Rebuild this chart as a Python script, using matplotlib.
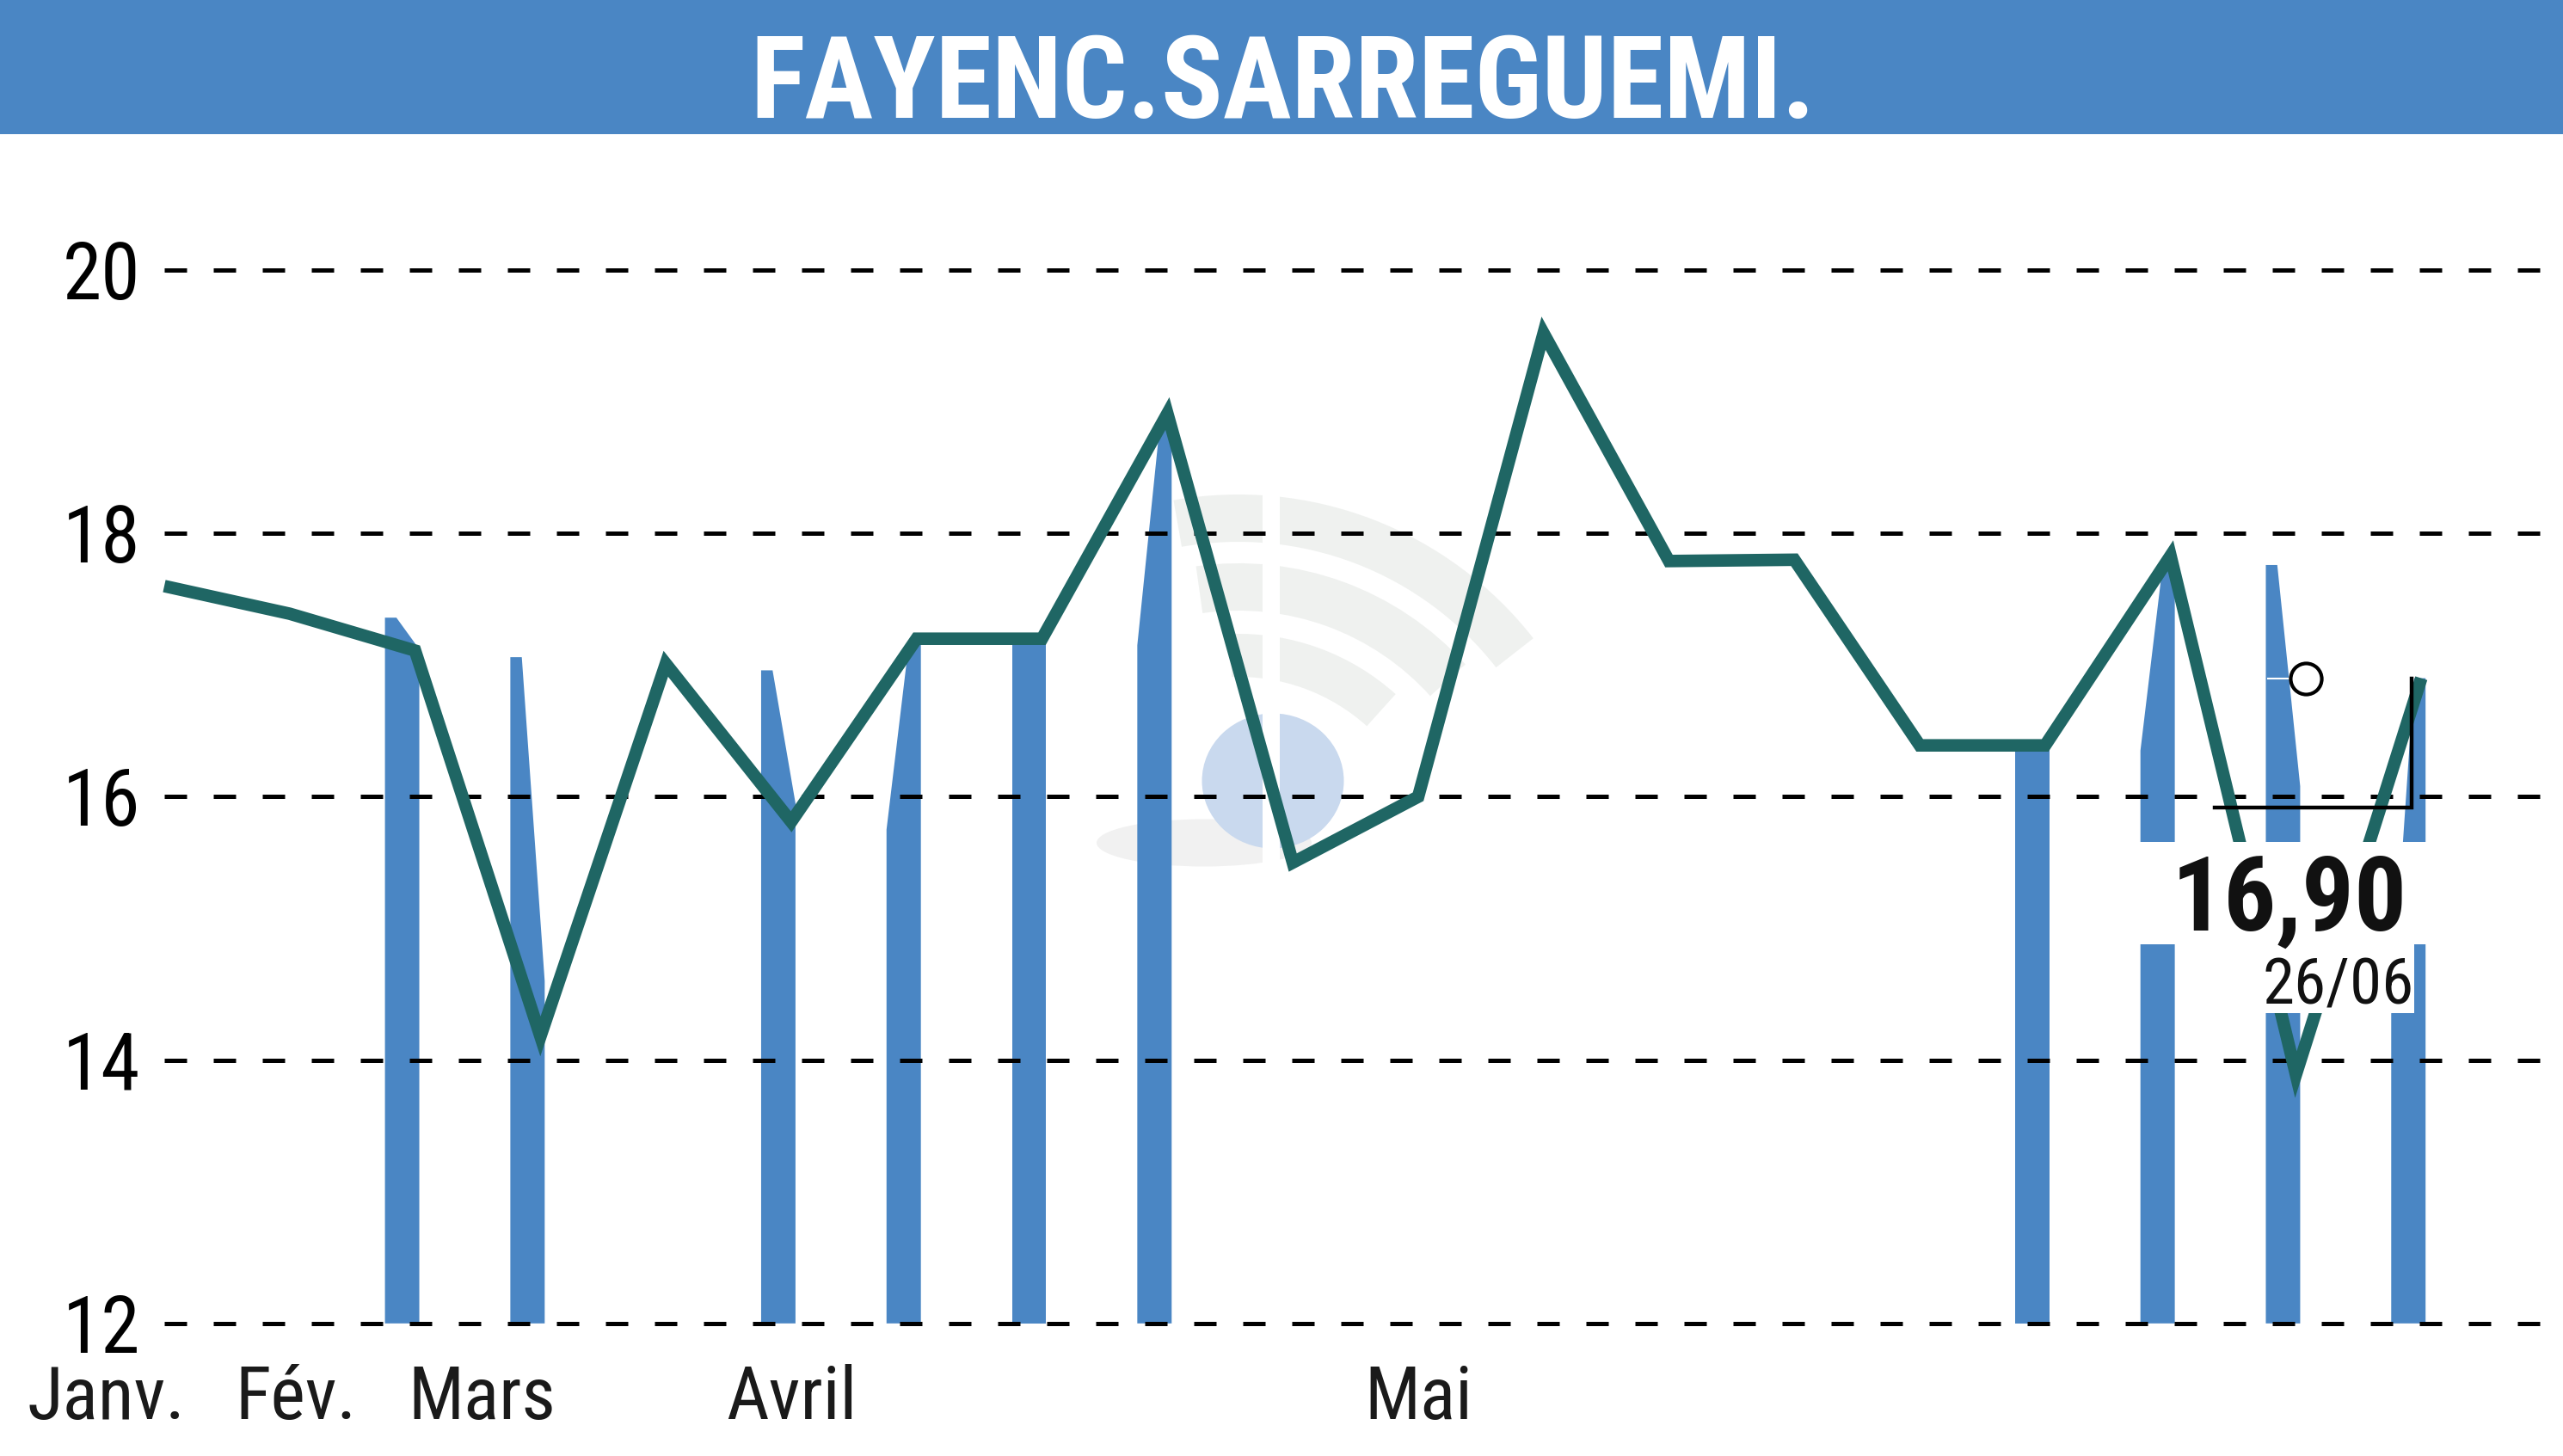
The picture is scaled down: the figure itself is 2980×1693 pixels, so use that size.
import matplotlib
matplotlib.use("Agg")
import matplotlib.pyplot as plt
from matplotlib import font_manager
from matplotlib.patches import Rectangle, Wedge, Ellipse

# -----------------------------
# Data
# -----------------------------
title = "FAYENC.SARREGUEMI."
prices = [17.60, 17.39, 17.11, 14.18, 17.01, 15.81, 17.20, 17.20, 18.91, 15.50,
          16.00, 19.52, 17.79, 17.80, 16.39, 16.39, 17.83, 13.89, 16.90]
bar_index = [2, 3, 5, 6, 7, 8, 15, 16, 17, 18]
bar_top_left = [17.36, 17.06, 16.96, 15.75, 17.20, 17.15, 16.40, 16.35, 17.76, 14.35]
bar_top_right = [17.12, 14.60, 15.95, 17.20, 17.20, 18.85, 16.40, 17.80, 16.08, 16.90]
months = ["Janv.", "Fév.", "Mars", "Avril", "Mai"]
month_ticks = [-0.46, 1.05, 2.53, 5.0, 10.0]
y_ticks = [12, 14, 16, 18, 20]
last_value = "16,90"
last_date = "26/06"

# -----------------------------
# Fonts / colours
# -----------------------------
names = {f.name for f in font_manager.fontManager.ttflist}
FONT = "DejaVu Sans"
for cand in ["Liberation Sans Narrow", "Roboto Condensed", "Roboto", "Liberation Sans"]:
    if cand in names:
        FONT = cand
        break
txt = dict(family=FONT)

BLUE = "#4a86c4"
TEAL = "#1f6664"

fig = plt.figure(figsize=(29.8, 16.93), dpi=100)

# watermark layer in pixel units (under the chart)
wm = fig.add_axes([0, 0, 1, 1], zorder=0)
wm.set_xlim(0, 2980)
wm.set_ylim(1693, 0)
wm.axis("off")
for r, w, a1, a2 in [(435, 55, 38, 100), (355, 55, 42, 98), (273, 50, 48, 92)]:
    wm.add_patch(Wedge((1440, 1010), r, 360 - a2, 360 - a1, width=w,
                       facecolor="#eff1ef", edgecolor="none"))
wm.add_patch(Ellipse((1400, 980), 250, 55, facecolor="#f1f1f1", edgecolor="none"))
wm.add_patch(Ellipse((1480, 908), 165, 157, facecolor="#c9d9ee", edgecolor="none"))
wm.add_patch(Rectangle((1468, 540), 20, 500, facecolor="white", edgecolor="none"))

# main chart, axes spanning the whole figure
ax = fig.add_axes([0, 0, 1, 1], zorder=1)
ax.patch.set_alpha(0)
ax.set_xlim(-1.31, 19.13)
ax.set_ylim(10.993, 22.051)
ax.axis("off")

x = list(range(len(prices)))

# bars (stepped tops approximated by a slanted top, flat on the high side)
bw = 0.274
for i, tl, tr in zip(bar_index, bar_top_left, bar_top_right):
    xl = i - 0.24
    xr = xl + bw
    if tl >= tr:
        px = [xl, xl, xl + bw / 3, xr, xr]
        py = [12, tl, tl, tr, 12]
    else:
        px = [xl, xl, xr - bw / 3, xr, xr]
        py = [12, tl, tr, tr, 12]
    ax.fill(px, py, color=BLUE, lw=0, zorder=2)

# dashed grid
ax.hlines(y_ticks, 0, 19.13, colors="black", lw=3.6,
          linestyles=(0, (5.2, 6.2)), zorder=3)

# price line
ax.plot(x, prices, color=TEAL, lw=10.5, solid_joinstyle="miter",
        solid_capstyle="butt", zorder=4)

# y labels
for v in y_ticks:
    ax.text(-0.19, v - 0.222, str(v), ha="right", va="baseline",
            fontsize=66, color="black", **txt)

# month labels
for pos, m in zip(month_ticks, months):
    ax.text(pos, 11.274, m, ha="center", va="baseline",
            fontsize=62, color="#1a1a1a", **txt)

# last value annotation
ax.add_patch(Rectangle((15.63, 14.879), 2.47, 0.778, facecolor="white",
                       edgecolor="none", zorder=5))
ax.add_patch(Rectangle((16.69, 14.357), 1.25, 0.522, facecolor="white",
                       edgecolor="none", zorder=5))
ax.plot([16.35, 17.92, 17.92], [15.92, 15.92, prices[-1]], color="black",
        lw=3.2, solid_joinstyle="miter", zorder=6)
ax.plot([16.78, 16.98], [prices[-1], prices[-1]], color="white", lw=1.5, zorder=5)
ax.plot([17.08], [prices[-1]], marker="o", ms=26, mfc="none", mec="black",
        mew=3, zorder=6)
ax.text(17.89, 14.984, last_value, ha="right", va="baseline", fontsize=87,
        fontweight="bold", color="#111111", zorder=7, **txt)
ax.text(17.94, 14.428, last_date, ha="right", va="baseline", fontsize=54,
        color="#111111", zorder=7, **txt)

# title band
ax.add_patch(Rectangle((0, 1 - 156 / 1693), 1, 156 / 1693, transform=ax.transAxes,
                       facecolor=BLUE, edgecolor="none", zorder=8))
ax.text(0.5007, 1 - 137 / 1693, title, transform=ax.transAxes, ha="center",
        va="baseline", fontsize=96, fontweight="bold", color="white",
        zorder=9, **txt)

fig.savefig("out.png", dpi=100)
